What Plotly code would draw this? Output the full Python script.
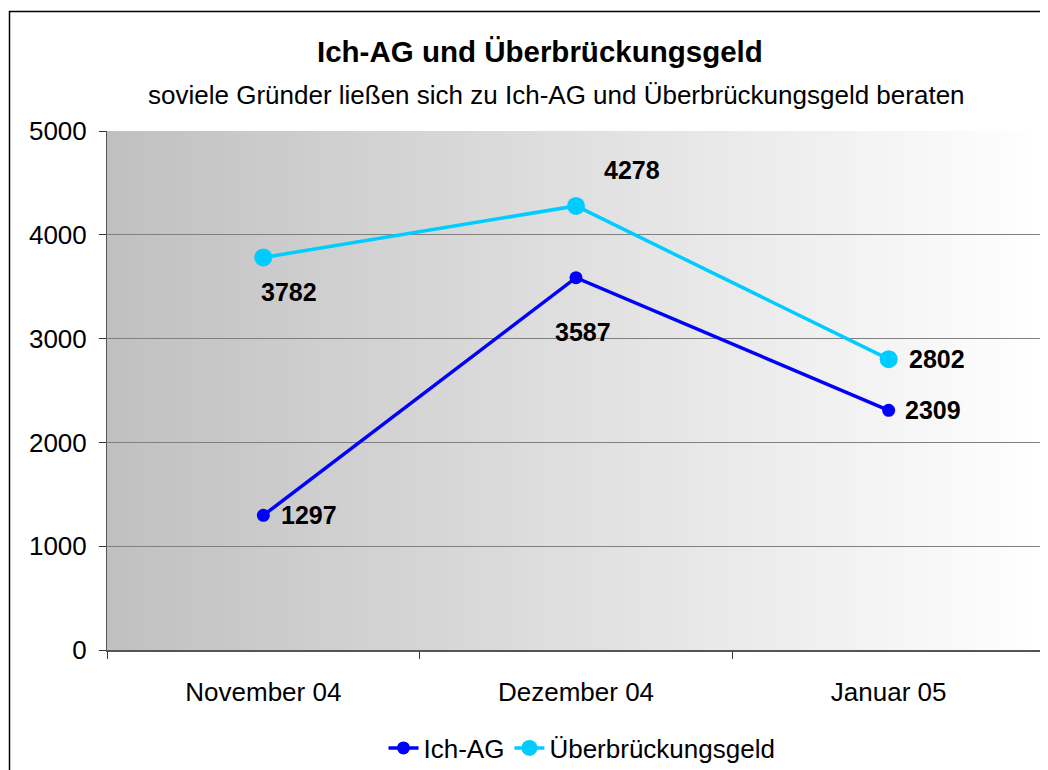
import plotly.graph_objects as go

months = ["November 04", "Dezember 04", "Januar 05"]
ich_ag = [1297, 3587, 2309]
ueberbrueckung = [3782, 4278, 2802]
y_ticks = [0, 1000, 2000, 3000, 4000, 5000]

title = "Ich-AG und Überbrückungsgeld"
subtitle = "soviele Gründer ließen sich zu Ich-AG und Überbrückungsgeld beraten"

FONT = "Liberation Sans, Arial, sans-serif"
C_ICH = "#0000FF"
C_UEB = "#00CCFF"

fig = go.Figure()
fig.add_trace(go.Scatter(
    x=months, y=ich_ag, name="Ich-AG", mode="lines+markers",
    line=dict(color=C_ICH, width=3.5), marker=dict(color=C_ICH, size=13)))
fig.add_trace(go.Scatter(
    x=months, y=ueberbrueckung, name="Überbrückungsgeld", mode="lines+markers",
    line=dict(color=C_UEB, width=3.5), marker=dict(color=C_UEB, size=18)))

# data labels (offsets in pixels)
ich_off = [(46, 0), (7, -54), (44, 0)]
ueb_off = [(26, -35), (56, 36), (48, 0)]
anns = []
for vals, offs in ((ich_ag, ich_off), (ueberbrueckung, ueb_off)):
    for m, v, (dx, dy) in zip(months, vals, offs):
        anns.append(dict(x=m, y=v, xref="x", yref="y", text=f"<b>{v}</b>",
                         showarrow=False, xshift=dx, yshift=dy,
                         xanchor="center", yanchor="middle",
                         font=dict(family=FONT, size=25, color="black")))

PAGE_OFF = 8  # default body margin of the page
L, R, T, B = 99, 3, 123, 120
W, H = 1040, 762
pw, ph = W - L - R, H - T - B

def px_x(p):
    return (p - PAGE_OFF - L) / pw

def px_y(p):
    return (H - B - (p - PAGE_OFF)) / ph

anns.append(dict(x=px_x(540), y=px_y(52), xref="paper", yref="paper", text=f"<b>{title}</b>",
                 showarrow=False, xanchor="center", yanchor="middle",
                 font=dict(family=FONT, size=29.5, color="black")))
anns.append(dict(x=px_x(556), y=px_y(95), xref="paper", yref="paper", text=subtitle,
                 showarrow=False, xanchor="center", yanchor="middle",
                 font=dict(family=FONT, size=26, color="black")))

# gradient background as stepped bands
shapes = []
n = 80
for i in range(n):
    t = (i + 0.5) / n
    c = int(round(192 + (255 - 192) * t))
    shapes.append(dict(type="rect", xref="x domain", yref="y domain",
                       x0=i / n, x1=(i + 1) / n + 0.001, y0=0, y1=1,
                       fillcolor=f"rgb({c},{c},{c})", line=dict(width=0), layer="below"))
# outer chart frame
shapes.append(dict(type="rect", xref="paper", yref="paper",
                   x0=px_x(9.5), x1=px_x(1100), y0=px_y(1000), y1=px_y(11.5),
                   line=dict(color="black", width=1.5), fillcolor="rgba(0,0,0,0)"))

fig.update_layout(
    width=W, height=H,
    margin=dict(l=L, r=R, t=T, b=B, autoexpand=False),
    paper_bgcolor="white", plot_bgcolor="rgba(0,0,0,0)",
    font=dict(family=FONT, size=26, color="black"),
    showlegend=True,
    legend=dict(orientation="h", x=px_x(582), xanchor="center", y=px_y(748), yanchor="middle",
                font=dict(family=FONT, size=26, color="black"), itemwidth=30,
                bgcolor="rgba(0,0,0,0)"),
    annotations=anns, shapes=shapes,
)
fig.update_xaxes(type="category", categoryorder="array", categoryarray=months,
                 range=[-0.5, 2.5], automargin=False,
                 tickson="boundaries", ticks="outside", ticklen=7, tickcolor="#333333",
                 showline=True, linecolor="#555555", linewidth=2, showgrid=False,
                 ticklabelstandoff=18, tickfont=dict(size=26), mirror=False)
fig.update_yaxes(range=[0, 5000], tickvals=y_ticks, ticks="outside", ticklen=7, automargin=False,
                 tickcolor="#333333", showline=True, linecolor="#555555", linewidth=1,
                 showgrid=True, gridcolor="#808080", gridwidth=1, zeroline=False,
                 ticklabelstandoff=7, tickfont=dict(size=26))

fig.write_html("out.html")
